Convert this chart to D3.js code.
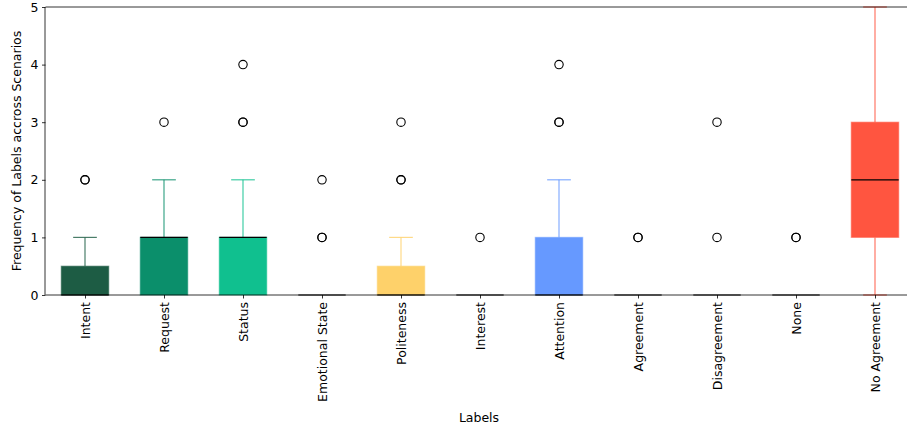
<!DOCTYPE html>
<html>
<head>
<meta charset="utf-8">
<script src="https://cdn.jsdelivr.net/npm/d3@7"></script>
<style>
  body { margin: 0; background: #fff; }
  svg text { font-family: "DejaVu Sans", sans-serif; fill: #000; }
  .axis path, .axis line { stroke: #000; stroke-width: 0.8; }
</style>
</head>
<body>
<div id="chart"></div>
<script>
const categories = ["Intent", "Request", "Status", "Emotional State", "Politeness", "Interest",
    "Attention", "Agreement", "Disagreement", "None", "No Agreement"];
const q1 = [0, 0, 0, 0, 0, 0, 0, 0, 0, 0, 1];
const medians = [0, 1, 1, 0, 0, 0, 0, 0, 0, 0, 2];
const q3 = [0.5, 1, 1, 0, 0.5, 0, 1, 0, 0, 0, 3];
const whiskerLow = [0, 0, 0, 0, 0, 0, 0, 0, 0, 0, 0];
const whiskerHigh = [1, 2, 2, 0, 1, 0, 2, 0, 0, 0, 5];
// repeated values = several scenarios on the same point
const outliers = [
    [2, 2], [3], [3, 3, 4], [1, 1, 2], [2, 2, 3], [1],
    [3, 3, 4], [1, 1], [1, 3], [1, 1], []
];
const colors = ["#1d5c44", "#0b8f6b", "#10c08f", "#2e2e2e", "#fed16a", "#2e2e2e",
    "#6699ff", "#2e2e2e", "#2e2e2e", "#2e2e2e", "#ff5540"];
const yTicks = [0, 1, 2, 3, 4, 5];

const width = 907, height = 432;
const plot = { left: 45.5, right: 914.5, top: 7, bottom: 295 };

const svg = d3.select("#chart").append("svg")
    .attr("width", width)
    .attr("height", height);

const x = d3.scalePoint()
    .domain(categories)
    .range([plot.left, plot.right])
    .padding(0.5);

const y = d3.scaleLinear()
    .domain([0, 5])
    .range([plot.bottom, plot.top]);

const boxW = x.step() * 0.6;

const boxes = svg.append("g").selectAll("g")
    .data(categories)
    .join("g");

// whiskers
boxes.each(function(c, i) {
    const g = d3.select(this);
    const cx = x(c);
    const col = colors[i];
    if (whiskerHigh[i] > q3[i]) {
        g.append("line")
            .attr("x1", cx).attr("x2", cx)
            .attr("y1", y(q3[i])).attr("y2", y(whiskerHigh[i]))
            .attr("stroke", col).attr("stroke-opacity", 0.8).attr("stroke-width", 1.2);
        g.append("line")
            .attr("x1", cx - boxW / 4).attr("x2", cx + boxW / 4)
            .attr("y1", y(whiskerHigh[i])).attr("y2", y(whiskerHigh[i]))
            .attr("stroke", col).attr("stroke-opacity", 0.8).attr("stroke-width", 1.2);
    }
    if (whiskerLow[i] < q1[i]) {
        g.append("line")
            .attr("x1", cx).attr("x2", cx)
            .attr("y1", y(q1[i])).attr("y2", y(whiskerLow[i]))
            .attr("stroke", col).attr("stroke-opacity", 0.8).attr("stroke-width", 1.2);
        g.append("line")
            .attr("x1", cx - boxW / 4).attr("x2", cx + boxW / 4)
            .attr("y1", y(whiskerLow[i])).attr("y2", y(whiskerLow[i]))
            .attr("stroke", col).attr("stroke-opacity", 0.8).attr("stroke-width", 1.2);
    }
    // box
    g.append("rect")
        .attr("x", cx - boxW / 2)
        .attr("y", y(q3[i]))
        .attr("width", boxW)
        .attr("height", Math.max(0, y(q1[i]) - y(q3[i])))
        .attr("fill", col)
        .attr("stroke", col)
        .attr("stroke-opacity", 0.5)
        .attr("stroke-width", 1.2);
    // median
    g.append("line")
        .attr("x1", cx - boxW / 2).attr("x2", cx + boxW / 2)
        .attr("y1", y(medians[i])).attr("y2", y(medians[i]))
        .attr("stroke", "#000").attr("stroke-width", 1.2);
    // outliers
    g.selectAll("circle")
        .data(outliers[i])
        .join("circle")
        .attr("cx", cx)
        .attr("cy", d => y(d))
        .attr("r", 4.2)
        .attr("fill", "none")
        .attr("stroke", "#000")
        .attr("stroke-width", 1.1);
});

// axes
svg.append("g")
    .attr("class", "axis")
    .attr("transform", `translate(${plot.left},0)`)
    .call(d3.axisLeft(y).tickValues(yTicks).tickSize(3.5).tickPadding(3.5).tickFormat(d3.format("d")))
    .call(g => g.selectAll("text").style("font-size", "12.5px"))
    .call(g => g.select(".domain").attr("d", `M-0.5,${plot.bottom}V${plot.top}`));

svg.append("g")
    .attr("class", "axis")
    .attr("transform", `translate(0,${plot.bottom})`)
    .call(d3.axisBottom(x).tickSize(3.5).tickPadding(3.5))
    .call(g => g.select(".domain").attr("d", `M${plot.left},0H${plot.right}`))
    .call(g => g.selectAll("text")
        .style("font-size", "12.5px")
        .attr("transform", "rotate(-90)")
        .attr("x", -7)
        .attr("y", 0)
        .attr("dy", "0.35em")
        .style("text-anchor", "end"));

// top spine
svg.append("line")
    .attr("x1", plot.left).attr("x2", plot.right)
    .attr("y1", plot.top).attr("y2", plot.top)
    .attr("stroke", "#000").attr("stroke-width", 0.8);

svg.append("text")
    .attr("x", (plot.left + plot.right) / 2 - 0)
    .attr("x", 479)
    .attr("y", 422)
    .style("font-size", "12.5px")
    .style("text-anchor", "middle")
    .text("Labels");

svg.append("text")
    .attr("transform", `translate(21,${(plot.top + plot.bottom) / 2}) rotate(-90)`)
    .style("font-size", "12.5px")
    .style("text-anchor", "middle")
    .text("Frequency of Labels accross Scenarios");
</script>
</body>
</html>
